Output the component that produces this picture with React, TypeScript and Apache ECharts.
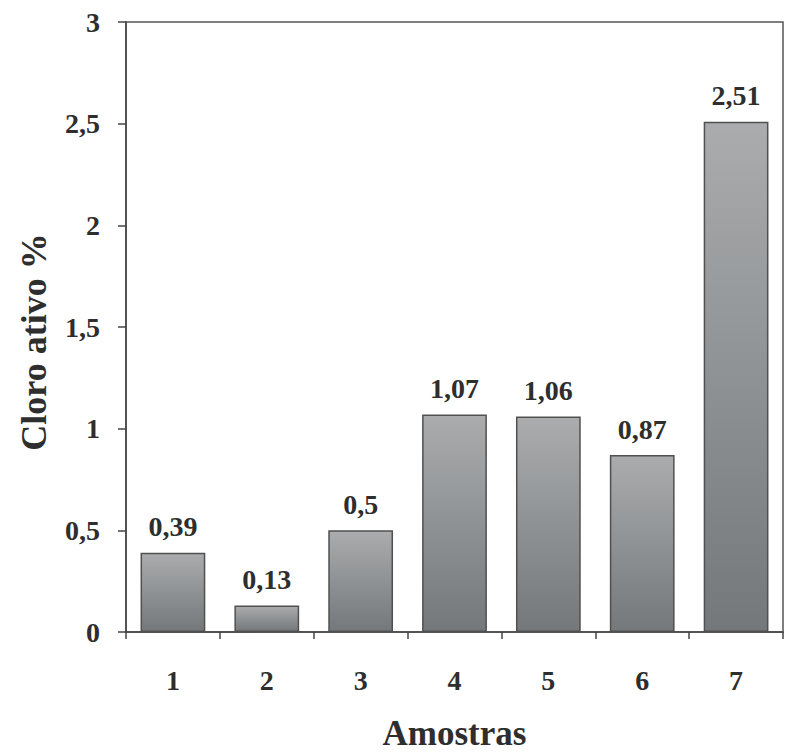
import React, { useEffect, useRef } from "react";
import * as echarts from "echarts";

const categories = ["1", "2", "3", "4", "5", "6", "7"];
const values = [0.39, 0.13, 0.5, 1.07, 1.06, 0.87, 2.51];
const yTicks = { min: 0, max: 3, interval: 0.5 };
const xTitle = "Amostras";
const yTitle = "Cloro ativo %";

const FONT = "'Liberation Serif', 'Times New Roman', serif";
const TXT = "#2e2e2e";

const fmt = (v: number) => String(v).replace(".", ",");

export default function App() {
  const ref = useRef<HTMLDivElement>(null);
  useEffect(() => {
    if (!ref.current) return;
    const chart = echarts.init(ref.current, undefined, { renderer: "svg" });
    chart.setOption({
      animation: false,
      backgroundColor: "#ffffff",
      grid: {
        left: 126,
        right: 2,
        top: 22,
        bottom: 115,
        show: true,
        borderColor: "#555555",
        borderWidth: 1.5,
        containLabel: false,
      },
      xAxis: {
        type: "category",
        data: categories,
        name: xTitle,
        nameLocation: "middle",
        nameGap: 84,
        nameTextStyle: { fontFamily: FONT, fontWeight: "bold", fontSize: 35, color: TXT },
        axisLine: { lineStyle: { color: "#444444", width: 1.5 } },
        axisTick: { show: true, length: 7, lineStyle: { color: "#444444", width: 1.5 } },
        axisLabel: { margin: 34, fontFamily: FONT, fontWeight: "bold", fontSize: 28, color: TXT },
        splitLine: { show: false },
      },
      yAxis: {
        type: "value",
        min: yTicks.min,
        max: yTicks.max,
        interval: yTicks.interval,
        name: yTitle,
        nameLocation: "middle",
        nameGap: 74,
        nameRotate: 90,
        nameTextStyle: {
          fontFamily: FONT,
          fontWeight: "bold",
          fontSize: 36,
          color: TXT,
          padding: [0, 30, 0, 0],
        },
        axisLine: { show: true, lineStyle: { color: "#444444", width: 1.5 } },
        axisTick: { show: true, length: 8, lineStyle: { color: "#444444", width: 1.5 } },
        axisLabel: {
          margin: 26,
          fontFamily: FONT,
          fontWeight: "bold",
          fontSize: 28,
          color: TXT,
          formatter: (v: number) => fmt(v),
        },
        splitLine: { show: false },
      },
      series: [
        {
          type: "bar",
          data: values,
          barCategoryGap: "31%",
          itemStyle: {
            color: new echarts.graphic.LinearGradient(0, 0, 0, 1, [
              { offset: 0, color: "#aaacae" },
              { offset: 1, color: "#74787a" },
            ]),
            borderColor: "#505050",
            borderWidth: 1.5,
          },
          label: {
            show: true,
            position: "top",
            distance: 12,
            fontFamily: FONT,
            fontWeight: "bold",
            fontSize: 28,
            color: TXT,
            formatter: (p: any) => fmt(p.value),
          },
        },
      ],
    });
    return () => chart.dispose();
  }, []);
  return (
    <div
      ref={ref}
      style={{ position: "fixed", left: 0, top: 0, width: 785, height: 756 }}
    />
  );
}
